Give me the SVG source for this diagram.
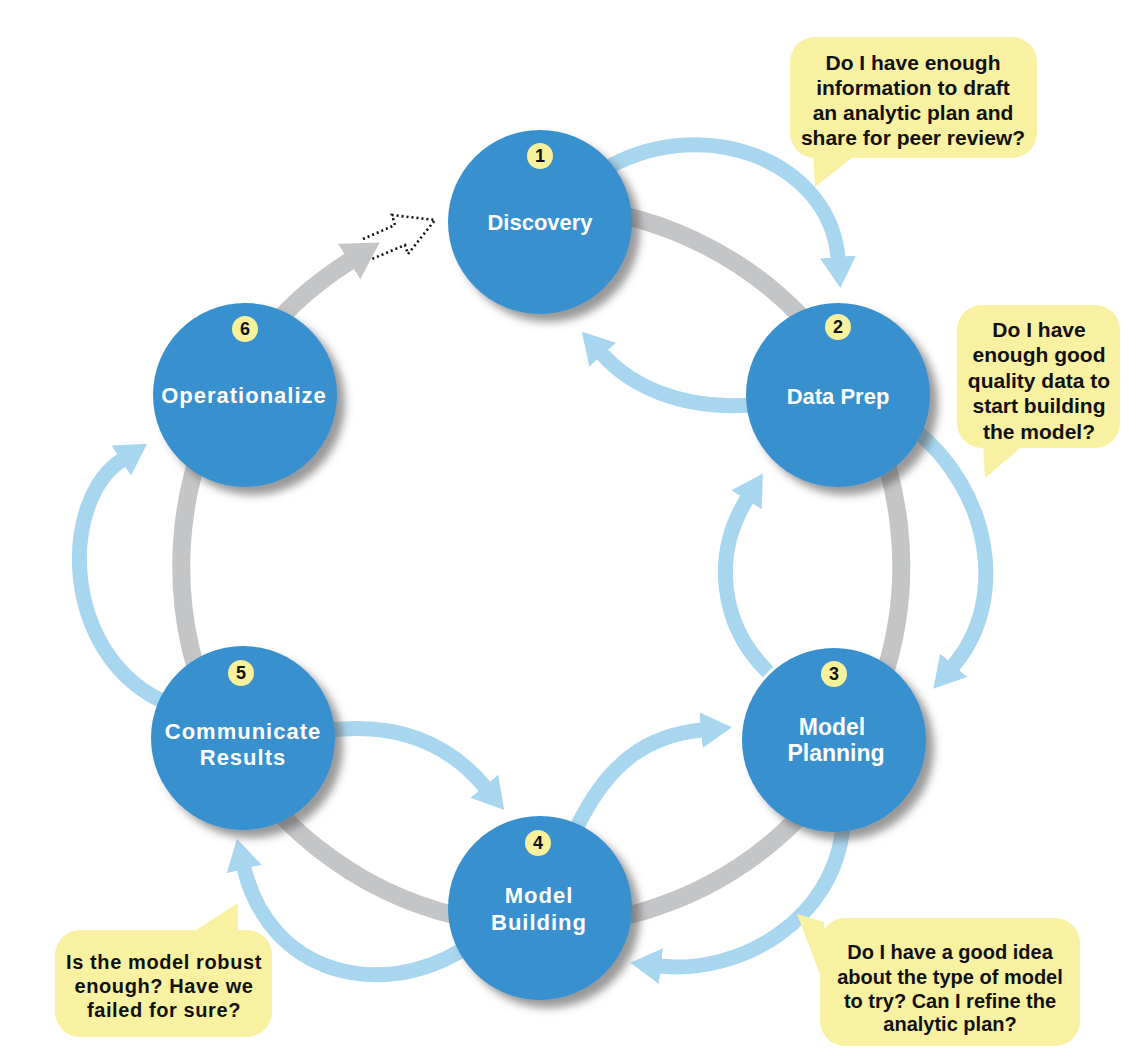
<svg xmlns="http://www.w3.org/2000/svg" width="1142" height="1061" viewBox="0 0 1142 1061">
<style>
.ring{fill:none;stroke:#c4c5c7;stroke-width:18}
.flow{fill:none;stroke:#a8d6ef;stroke-width:15}
.node{fill:#3790cf}
.badge{fill:#f7f19b}
.num{font-family:"Liberation Sans",Arial,sans-serif;font-weight:bold;font-size:18px;fill:#111;text-anchor:middle}
.lbl{font-family:"Liberation Sans",Arial,sans-serif;font-weight:bold;font-size:22px;fill:#fff;text-anchor:middle}
.wide{letter-spacing:1px}
.note{fill:#f8f1a2}
.qt{font-family:"Liberation Sans",Arial,sans-serif;font-weight:bold;font-size:21px;fill:#111;text-anchor:middle}
</style>
<defs>
<filter id="sh" x="-20%" y="-20%" width="150%" height="150%">
<feDropShadow dx="8" dy="8" stdDeviation="4" flood-color="#555" flood-opacity="0.6"/>
</filter>
<marker id="ab" viewBox="0 0 31 36" refX="1" refY="18" markerWidth="31" markerHeight="36" markerUnits="userSpaceOnUse" orient="auto">
<path d="M0,0 L31,18 L0,36 z" fill="#a8d6ef"/>
</marker>
<marker id="ag" viewBox="0 0 36 42" refX="1" refY="21" markerWidth="36" markerHeight="42" markerUnits="userSpaceOnUse" orient="auto">
<path d="M0,0 L36,21 L0,42 z" fill="#c4c5c7"/>
</marker>
</defs>
<rect width="1142" height="1061" fill="#fff"/>

<g id="connectors">
<path class="ring" d="M540,206 A360,360 0 1 1 350,261" marker-end="url(#ag)"/>
<path d="M363,239 L395,225 L392,215 L435,220 L408,254 L405,245 L372,259" fill="none" stroke="#111" stroke-width="2.6" stroke-dasharray="2 3"/>
<path class="flow" d="M600,172 C700,110 830,160 838,258" marker-end="url(#ab)"/>
<path class="flow" d="M750,405 C680,410 630,385 602,354" marker-end="url(#ab)"/>
<path class="flow" d="M915,430 C990,490 1010,600 953,666" marker-end="url(#ab)"/>
<path class="flow" d="M768,672 C720,625 712,555 747,499" marker-end="url(#ab)"/>
<path class="flow" d="M578,825 C610,760 650,735 702,730" marker-end="url(#ab)"/>
<path class="flow" d="M843,825 C835,920 740,975 660,966" marker-end="url(#ab)"/>
<path class="flow" d="M330,730 C400,722 450,745 485,787" marker-end="url(#ab)"/>
<path class="flow" d="M462,950 C380,1000 270,975 244,868" marker-end="url(#ab)"/>
<path class="flow" d="M160,700 C60,650 60,500 122,460" marker-end="url(#ab)"/>
</g>

<g id="n1">
<circle class="node" cx="540" cy="222" r="92" filter="url(#sh)"/>
<circle class="badge" cx="540" cy="156" r="13"/>
<text class="num" x="540" y="162">1</text>
<text class="lbl" x="540" y="230">Discovery</text>
</g>
<g id="n2">
<circle class="node" cx="838" cy="395" r="92" filter="url(#sh)"/>
<circle class="badge" cx="838" cy="327" r="13"/>
<text class="num" x="838" y="333">2</text>
<text class="lbl" x="838" y="404">Data Prep</text>
</g>
<g id="n3">
<circle class="node" cx="834" cy="740" r="92" filter="url(#sh)"/>
<circle class="badge" cx="834" cy="674" r="13"/>
<text class="num" x="834" y="680">3</text>
<text class="lbl" x="832" y="735" style="font-size:23px">Model</text>
<text class="lbl" x="836" y="761" style="font-size:23px">Planning</text>
</g>
<g id="n4">
<circle class="node" cx="540" cy="908" r="92" filter="url(#sh)"/>
<circle class="badge" cx="538" cy="843" r="13"/>
<text class="num" x="538" y="849">4</text>
<text class="lbl wide" x="539" y="903">Model</text>
<text class="lbl wide" x="539" y="930">Building</text>
</g>
<g id="n5">
<circle class="node" cx="243" cy="738" r="92" filter="url(#sh)"/>
<circle class="badge" cx="241" cy="673" r="13"/>
<text class="num" x="241" y="679">5</text>
<text class="lbl wide" x="243" y="739">Communicate</text>
<text class="lbl wide" x="243" y="765">Results</text>
</g>
<g id="n6">
<circle class="node" cx="245" cy="395" r="92" filter="url(#sh)"/>
<circle class="badge" cx="245" cy="329" r="13"/>
<text class="num" x="245" y="335">6</text>
<text class="lbl wide" x="244" y="403">Operationalize</text>
</g>

<g id="q1">
<rect class="note" x="790" y="37" width="247" height="121" rx="25"/>
<polygon class="note" points="813,150 815,187 862,150"/>
<text class="qt" x="913" y="70">Do I have enough</text>
<text class="qt" x="913" y="95">information to draft</text>
<text class="qt" x="913" y="120">an analytic plan and</text>
<text class="qt" x="913" y="145">share for peer review?</text>
</g>
<g id="q2">
<rect class="note" x="957" y="305" width="163" height="143" rx="25"/>
<polygon class="note" points="983,440 985,478 1030,440"/>
<text class="qt" x="1039" y="337">Do I have</text>
<text class="qt" x="1039" y="362">enough good</text>
<text class="qt" x="1039" y="388">quality data to</text>
<text class="qt" x="1039" y="413">start building</text>
<text class="qt" x="1039" y="439">the model?</text>
</g>
<g id="q3">
<rect class="note" x="820" y="918" width="260" height="128" rx="25"/>
<polygon class="note" points="824,922 797,914 824,985"/>
<text class="qt" x="950" y="959" style="font-size:20px">Do I have a good idea</text>
<text class="qt" x="950" y="984" style="font-size:20px">about the type of model</text>
<text class="qt" x="950" y="1008" style="font-size:20px">to try? Can I refine the</text>
<text class="qt" x="950" y="1031" style="font-size:20px">analytic plan?</text>
</g>
<g id="q4">
<rect class="note" x="55" y="930" width="217" height="107" rx="25"/>
<polygon class="note" points="190,934 238,903 238,934"/>
<text class="qt" x="164" y="969" style="font-size:20px;letter-spacing:0.6px">Is the model robust</text>
<text class="qt" x="164" y="993" style="font-size:20px;letter-spacing:0.6px">enough? Have we</text>
<text class="qt" x="164" y="1017" style="font-size:20px;letter-spacing:0.6px">failed for sure?</text>
</g>
</svg>
